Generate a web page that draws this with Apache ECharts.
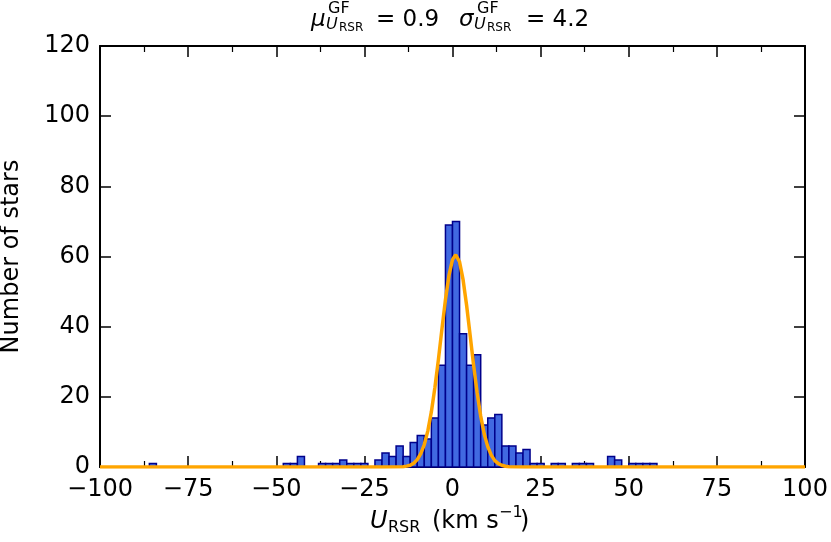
<!DOCTYPE html>
<html>
<head>
<meta charset="utf-8">
<script src="https://cdn.jsdelivr.net/npm/echarts@6/dist/echarts.min.js"></script>
<style>
  html, body { margin: 0; padding: 0; background: #fff; }
  #chart { width: 831px; height: 542px; }
</style>
</head>
<body>
<div id="chart"></div>
<script>
// histogram bins (left edge, width 2 km/s) and star counts
const binStart = [-86, -48, -46, -44, -38, -36, -34, -32, -30, -28, -26,
  -22, -20, -18, -16, -14, -12, -10, -8, -6, -4, -2, 0, 2, 4, 6, 8, 10, 12,
  14, 16, 18, 20, 22, 24, 28, 30, 34, 36, 38, 44, 46, 50, 52, 54, 56];
const counts = [1, 1, 1, 3, 1, 1, 1, 2, 1, 1, 1,
  2, 4, 3, 6, 3, 7, 9, 8, 14, 29, 69, 70, 38, 29, 32, 12, 14, 15,
  6, 6, 4, 5, 1, 1, 1, 1, 1, 1, 1, 3, 2, 1, 1, 1, 1];
const binWidth = 2;

// gaussian fit curve
const fitX = [-100, -20, -14, -13, -12, -11, -10, -9, -8, -7, -6, -5, -4, -3, -2, -1,
  0, 0.9, 2, 3, 4, 5, 6, 7, 8, 9, 10, 11, 12, 13, 14, 15, 16, 20, 100];
const fitY = [0, 0, 0.1, 0.25, 0.5, 1.1, 2.1, 3.8, 6.4, 10.3, 15.7, 22.6, 30.6, 39.3, 47.7, 54.6,
  59.1, 60.5, 58.5, 53.4, 46.1, 37.6, 28.9, 21.1, 14.5, 9.4, 5.8, 3.4, 1.8, 0.95, 0.5, 0.2, 0.1, 0, 0];

const xTicks = { min: -100, max: 100, interval: 25 };
const yTicks = { min: 0, max: 120, interval: 20 };

const FONT = "'DejaVu Sans', sans-serif";

const histData = binStart.map((s, i) => [s, s + binWidth, counts[i]]);
const fitData = fitX.map((x, i) => [x, fitY[i]]);

const chart = echarts.init(document.getElementById('chart'), null, { renderer: 'canvas' });

function minus(v) {
  return v < 0 ? '\u2212' + Math.abs(v) : String(v);
}

const tickStyle = { show: true, inside: true, length: 11, lineStyle: { color: '#000', width: 1.5 } };
const minorStyle = { show: true, splitNumber: 2, length: 6, lineStyle: { color: '#000', width: 1.2 } };
const lineStyle = { show: true, onZero: false, lineStyle: { color: '#000', width: 2 } };

function txt(text, x, y, size, italic) {
  return {
    type: 'text',
    x: x, y: y,
    style: {
      text: text,
      fill: '#000',
      font: (italic ? 'italic ' : '') + size + 'px ' + FONT,
      textAlign: 'left',
      textVerticalAlign: 'middle'
    }
  };
}

const option = {
  animation: false,
  backgroundColor: '#fff',
  grid: { left: 100, right: 26, top: 46, bottom: 75, containLabel: false, outerBoundsMode: 'none' },
  xAxis: [
    {
      type: 'value', position: 'bottom',
      min: xTicks.min, max: xTicks.max, interval: xTicks.interval,
      axisLine: lineStyle, axisTick: tickStyle, minorTick: minorStyle,
      splitLine: { show: false },
      axisLabel: { color: '#000', fontSize: 24, fontFamily: FONT, margin: 11, formatter: minus }
    },
    {
      type: 'value', position: 'top',
      min: xTicks.min, max: xTicks.max, interval: xTicks.interval,
      axisLine: lineStyle, axisTick: tickStyle, minorTick: minorStyle,
      splitLine: { show: false }, axisLabel: { show: false }
    }
  ],
  yAxis: [
    {
      type: 'value', position: 'left',
      min: yTicks.min, max: yTicks.max, interval: yTicks.interval,
      axisLine: lineStyle, axisTick: tickStyle,
      splitLine: { show: false },
      axisLabel: { color: '#000', fontSize: 24, fontFamily: FONT, margin: 10 },
      name: 'Number of stars', nameLocation: 'middle', nameGap: 76, nameRotate: 90,
      nameTextStyle: { color: '#000', fontSize: 24, fontFamily: FONT }
    },
    {
      type: 'value', position: 'right',
      min: yTicks.min, max: yTicks.max, interval: yTicks.interval,
      axisLine: lineStyle, axisTick: tickStyle,
      splitLine: { show: false }, axisLabel: { show: false }
    }
  ],
  series: [
    {
      type: 'custom',
      name: 'hist',
      xAxisIndex: 0, yAxisIndex: 0,
      encode: { x: [0, 1], y: 2 },
      data: histData,
      z: 2,
      renderItem: function (params, api) {
        const p0 = api.coord([api.value(0), api.value(2)]);
        const p1 = api.coord([api.value(1), 0]);
        return {
          type: 'rect',
          shape: { x: p0[0], y: p0[1], width: p1[0] - p0[0], height: p1[1] - p0[1] },
          style: { fill: '#4169e1', stroke: '#00008b', lineWidth: 1.5 }
        };
      }
    },
    {
      type: 'line',
      name: 'fit',
      xAxisIndex: 0, yAxisIndex: 0,
      data: fitData,
      showSymbol: false,
      smooth: false,
      z: 3,
      lineStyle: { color: '#ffa500', width: 3.5 }
    }
  ],
  graphic: [
    // title: mu^GF_{U_RSR} = 0.9   sigma^GF_{U_RSR} = 4.2
    txt('\u03bc', 311, 20, 23, true),
    txt('GF', 328, 9, 16, false),
    txt('U', 326, 25, 16, true),
    txt('RSR', 339, 28, 12, false),
    txt('= 0.9', 376, 20, 23, false),
    txt('\u03c3', 459, 20, 23, true),
    txt('GF', 477, 9, 16, false),
    txt('U', 474, 25, 16, true),
    txt('RSR', 487, 28, 12, false),
    txt('= 4.2', 526, 20, 23, false),
    // x axis label: U_RSR (km s^-1)
    txt('U', 370, 522, 24, true),
    txt('RSR', 388, 528, 16, false),
    txt('(km s', 432, 522, 24, false),
    txt('\u22121', 499, 513, 16, false),
    txt(')', 520, 522, 24, false)
  ]
};

chart.setOption(option);
</script>
</body>
</html>
